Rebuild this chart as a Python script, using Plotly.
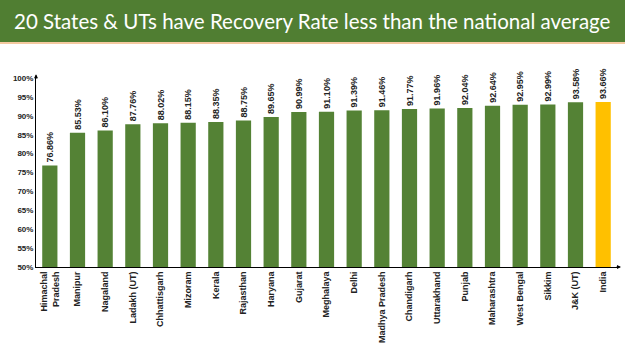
import plotly.graph_objects as go

states = ["Himachal<br>Pradesh", "Manipur", "Nagaland", "Ladakh (UT)", "Chhattisgarh",
          "Mizoram", "Kerala", "Rajasthan", "Haryana", "Gujarat", "Meghalaya", "Delhi",
          "Madhya Pradesh", "Chandigarh", "Uttarakhand", "Punjab", "Maharashtra",
          "West Bengal", "Sikkim", "J&K (UT)", "India"]
values = [76.86, 85.53, 86.10, 87.76, 88.02, 88.15, 88.35, 88.75, 89.65, 90.99, 91.10,
          91.39, 91.46, 91.77, 91.96, 92.04, 92.64, 92.95, 92.99, 93.58, 93.66]
title = "20 States & UTs have Recovery Rate less than the national average"

colors = ["#548235"] * (len(states) - 1) + ["#FFC000"]

W, H = 625, 351
L, R, T, B = 36, 8, 78, 84
FONT = "Liberation Sans"

fig = go.Figure(go.Bar(
    x=states, y=values, marker_color=colors, marker_line_width=0,
    text=[f"{v:.2f}%" for v in values], textposition="outside", textangle=-90,
    constraintext="none",
    textfont=dict(family=FONT, size=9, color="#222222", weight="bold"),
    cliponaxis=False,
))

fig.update_layout(
    width=W, height=H, margin=dict(l=L, r=R, t=T, b=B),
    paper_bgcolor="white", plot_bgcolor="white", showlegend=False,
    bargap=0.45,
    font=dict(family=FONT, color="#222222"),
    xaxis=dict(tickangle=-90, tickfont=dict(size=9, family=FONT, weight="bold"),
               showline=True, linecolor="black", linewidth=1, ticks="",
               range=[-0.5, len(states) - 0.5]),
    yaxis=dict(range=[50, 100], dtick=5, ticksuffix="%", showgrid=False,
               tickfont=dict(size=8, family=FONT, weight="bold"),
               showline=True, linecolor="black", linewidth=1, ticks=""),
)

pw = W - L - R
ph = H - T - B
def py(px_from_top):
    return (H - B - px_from_top) / ph

fig.add_shape(type="rect", xref="paper", yref="paper",
              x0=-L / pw, x1=1 + R / pw, y0=py(42), y1=py(0),
              fillcolor="#507E32", line_width=0, layer="below")
fig.add_shape(type="rect", xref="paper", yref="paper",
              x0=-L / pw, x1=1 + R / pw, y0=py(44), y1=py(42),
              fillcolor="#F4C9A0", line_width=0, layer="below")
fig.add_annotation(text=title, xref="paper", yref="paper", x=0.5 - (L - R) / 2 / pw,
                   y=py(21), showarrow=False, xanchor="center", yanchor="middle",
                   font=dict(family="Lato", size=20.5, color="white"))

# axis arrows
fig.add_annotation(xref="paper", yref="paper", x=0, y=1.02, ax=0, ay=6,
                   showarrow=True, arrowhead=2, arrowsize=0.8, arrowwidth=1,
                   arrowcolor="black", text="")
fig.add_annotation(xref="paper", yref="paper", x=1.0 + 4 / pw, y=0, ax=-6, ay=0,
                   showarrow=True, arrowhead=2, arrowsize=0.8, arrowwidth=1,
                   arrowcolor="black", text="")

fig.write_html("out.html")
